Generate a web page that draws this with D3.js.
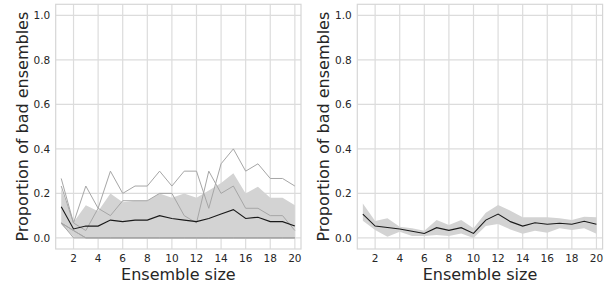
<!DOCTYPE html>
<html>
<head>
<meta charset="utf-8">
<script src="https://cdn.jsdelivr.net/npm/d3@7"></script>
<style>
  body { margin: 0; background: #fff; }
  svg { display: block; font-family: "DejaVu Sans", sans-serif; }
</style>
</head>
<body>
<div id="chart"></div>
<script>
// ensemble sizes on the x axis
const sizes = d3.range(1, 21);
const xTicks = [2, 4, 6, 8, 10, 12, 14, 16, 18, 20];
const yTicks = [0.0, 0.2, 0.4, 0.6, 0.8, 1.0];

// left panel: mean, confidence band, and the individual runs
const leftMean = [0.14, 0.04, 0.053, 0.053, 0.08, 0.073, 0.08, 0.08, 0.1, 0.087,
                  0.08, 0.073, 0.087, 0.107, 0.127, 0.087, 0.093, 0.073, 0.073, 0.053];
const leftUpper = [0.22, 0.07, 0.147, 0.12, 0.2, 0.16, 0.167, 0.167, 0.2, 0.18,
                   0.2, 0.18, 0.213, 0.247, 0.29, 0.2, 0.23, 0.18, 0.18, 0.147];
const leftLower = [0.06, 0.005, 0, 0, 0, 0, 0, 0, 0, 0,
                   0, 0, 0, 0, 0, 0, 0, 0, 0, 0];
const runA = [0.267, 0.067, 0.233, 0.133, 0.3, 0.2, 0.233, 0.233, 0.3, 0.233,
              0.3, 0.3, 0.133, 0.333, 0.4, 0.3, 0.333, 0.267, 0.267, 0.233];
const runB = [0.233, 0.067, 0.033, 0.133, 0.1, 0.167, 0.167, 0.167, 0.2, 0.2,
              0.1, 0.067, 0.3, 0.2, 0.233, 0.133, 0.133, 0.1, 0.1, 0.033];
const runC = [0.067, 0.033, 0, 0, 0, 0, 0, 0, 0, 0,
              0, 0, 0, 0, 0, 0, 0, 0, 0, 0];
const runD = [0.067, 0.033, 0, 0, 0, 0, 0, 0, 0, 0,
              0, 0, 0, 0, 0, 0, 0, 0, 0, 0];
const runE = [0.067, 0, 0, 0, 0, 0, 0, 0, 0, 0,
              0, 0, 0, 0, 0, 0, 0, 0, 0, 0];

// right panel: mean and confidence band
const rightMean = [0.107, 0.053, 0.047, 0.04, 0.03, 0.02, 0.046, 0.034, 0.046, 0.02,
                   0.08, 0.107, 0.073, 0.053, 0.068, 0.061, 0.066, 0.061, 0.075, 0.061];
const rightUpper = [0.155, 0.076, 0.088, 0.05, 0.043, 0.032, 0.08, 0.058, 0.08, 0.043,
                    0.113, 0.148, 0.122, 0.093, 0.093, 0.093, 0.088, 0.08, 0.095, 0.093];
const rightLower = [0.077, 0.035, 0.005, 0.028, 0.008, 0.008, 0.013, 0.008, 0.02, 0.0,
                    0.053, 0.062, 0.038, 0.018, 0.032, 0.023, 0.043, 0.035, 0.043, 0.018];

const width = 615, height = 287;
const svg = d3.select("#chart").append("svg")
  .attr("width", width)
  .attr("height", height);

const drawPanel = (left, mean, upper, lower, runs) => {
  const top = 4.3, bottom = 249, w = 245.3;

  const x = d3.scaleLinear().domain([0.55, 20.5]).range([left, left + w]);
  const y = d3.scaleLinear().domain([-0.05, 1.05]).range([bottom, top]);

  const g = svg.append("g");

  // grid
  g.selectAll(".gx").data(xTicks).join("line")
    .attr("x1", d => x(d)).attr("x2", d => x(d))
    .attr("y1", top).attr("y2", bottom)
    .attr("stroke", "#dcdcdc").attr("stroke-width", 1.2);
  g.selectAll(".gy").data(yTicks).join("line")
    .attr("x1", left).attr("x2", left + w)
    .attr("y1", d => y(d)).attr("y2", d => y(d))
    .attr("stroke", "#dcdcdc").attr("stroke-width", 1.2);

  // band
  const area = d3.area()
    .x((d, i) => x(sizes[i]))
    .y0((d, i) => y(lower[i]))
    .y1((d, i) => y(upper[i]));
  g.append("path").datum(mean)
    .attr("d", area)
    .attr("fill", "#d3d3d3");

  const line = d3.line().x((d, i) => x(sizes[i])).y(d => y(d));

  // individual runs
  runs.forEach(r => {
    g.append("path").datum(r)
      .attr("d", line)
      .attr("fill", "none")
      .attr("stroke", "#a6a6a6")
      .attr("stroke-width", 1);
  });

  // mean
  g.append("path").datum(mean)
    .attr("d", line)
    .attr("fill", "none")
    .attr("stroke", "#1a1a1a")
    .attr("stroke-width", 1.1);

  // frame
  g.append("rect")
    .attr("x", left).attr("y", top)
    .attr("width", w).attr("height", bottom - top)
    .attr("fill", "none")
    .attr("stroke", "#d6d6d6").attr("stroke-width", 1.2);

  // tick labels
  g.selectAll(".tx").data(xTicks).join("text")
    .attr("x", d => x(d))
    .attr("y", 262)
    .attr("text-anchor", "middle")
    .attr("font-size", "10.5px")
    .attr("fill", "#262626")
    .text(d => d);
  g.selectAll(".ty").data(yTicks).join("text")
    .attr("x", left - 5.5)
    .attr("y", d => y(d))
    .attr("dy", "0.36em")
    .attr("text-anchor", "end")
    .attr("font-size", "10.5px")
    .attr("fill", "#262626")
    .text(d => d.toFixed(1));

  // axis labels
  g.append("text")
    .attr("x", left + w / 2)
    .attr("y", 280)
    .attr("text-anchor", "middle")
    .attr("font-size", "16px")
    .attr("fill", "#262626")
    .text("Ensemble size");
  g.append("text")
    .attr("transform", `translate(${left - 28}, ${(top + bottom) / 2}) rotate(-90)`)
    .attr("text-anchor", "middle")
    .attr("font-size", "16px")
    .attr("fill", "#262626")
    .text("Proportion of bad ensembles");
};

drawPanel(55.7, leftMean, leftUpper, leftLower, [runE, runD, runC, runB, runA]);
drawPanel(357.3, rightMean, rightUpper, rightLower, []);
</script>
</body>
</html>
